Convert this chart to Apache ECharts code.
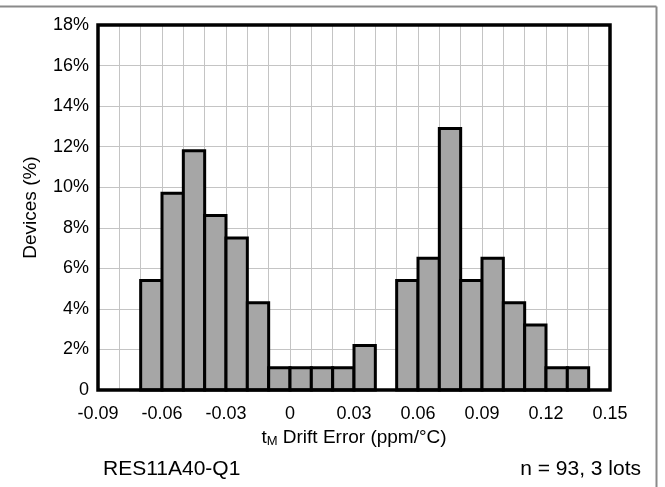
<!DOCTYPE html>
<html>
<head>
<meta charset="utf-8">
<script src="https://cdn.jsdelivr.net/npm/echarts@6/dist/echarts.min.js"></script>
<style>
  html, body { margin: 0; padding: 0; background: #fff; }
  #chart { width: 665px; height: 487px; }
</style>
</head>
<body>
<div id="chart"></div>
<script>
// bin left edges (ppm/°C), bin width 0.01
const binStart = [-0.07, -0.06, -0.05, -0.04, -0.03, -0.02, -0.01, 0, 0.01, 0.02, 0.03,
  0.04, 0.05, 0.06, 0.07, 0.08, 0.09, 0.10, 0.11, 0.12, 0.13];
const devicesPct = [5.4, 9.7, 11.8, 8.6, 7.5, 4.3, 1.1, 1.1, 1.1, 1.1, 2.2,
  0, 5.4, 6.5, 12.9, 5.4, 6.5, 4.3, 3.2, 1.1, 1.1];
const binWidth = 0.01;

const font = 'Liberation Sans, Arial, sans-serif';
const gridColor = '#c4c4c4';

const chart = echarts.init(document.getElementById('chart'));

const bars = [];
for (let i = 0; i < binStart.length; i++) {
  if (devicesPct[i] > 0) bars.push([binStart[i], binStart[i] + binWidth, devicesPct[i]]);
}

const option = {
  animation: false,
  grid: { left: 98, top: 25, width: 512, height: 365 },
  xAxis: {
    type: 'value',
    min: -0.09, max: 0.15, interval: 0.03,
    axisLine: { show: false },
    axisTick: { show: false },
    splitLine: { show: true, lineStyle: { color: gridColor, width: 1 } },
    minorTick: { show: false, splitNumber: 3 },
    minorSplitLine: { show: true, lineStyle: { color: gridColor, width: 1 } },
    axisLabel: {
      color: '#000', fontFamily: font, fontSize: 18, margin: 15,
      formatter: v => {
        const r = Math.round(v * 100) / 100;
        return r === 0 ? '0' : r.toFixed(2);
      }
    },
    name: '{n|t}{s|M}{n| Drift Error (ppm/°C)}',
    nameLocation: 'middle', nameGap: 37,
    nameTextStyle: {
      rich: {
        n: { fontFamily: font, fontSize: 19, color: '#000' },
        s: { fontFamily: font, fontSize: 13, color: '#000', verticalAlign: 'bottom', padding: [8, 0, 0, 0] }
      }
    }
  },
  yAxis: {
    type: 'value',
    min: 0, max: 18, interval: 2,
    axisLine: { show: false },
    axisTick: { show: false },
    splitLine: { show: true, lineStyle: { color: gridColor, width: 1 } },
    axisLabel: {
      color: '#000', fontFamily: font, fontSize: 18, margin: 9,
      formatter: v => v === 0 ? '0' : v + '%'
    },
    name: 'Devices (%)',
    nameLocation: 'middle', nameGap: 58,
    nameTextStyle: { color: '#000', fontFamily: font, fontSize: 19 }
  },
  series: [{
    type: 'custom',
    data: bars,
    renderItem: (params, api) => {
      const p0 = api.coord([api.value(0), 0]);
      const p1 = api.coord([api.value(1), api.value(2)]);
      return {
        type: 'rect',
        shape: { x: p0[0], y: p1[1], width: p1[0] - p0[0], height: p0[1] - p1[1] },
        style: { fill: '#a6a6a6', stroke: '#000', lineWidth: 3 }
      };
    },
    z: 3
  }],
  graphic: [
    { type: 'line', shape: { x1: 0, y1: 6.5, x2: 656.5, y2: 6.5 }, style: { stroke: '#8a8a8a', lineWidth: 2 } },
    { type: 'line', shape: { x1: 656.5, y1: 6.5, x2: 656.5, y2: 487 }, style: { stroke: '#8a8a8a', lineWidth: 2 } },
    // plot frame
    { type: 'rect', z: 100, shape: { x: 98, y: 25, width: 512, height: 365 },
      style: { fill: 'none', stroke: '#000', lineWidth: 3.5 } },
    { type: 'text', left: 103, top: 459, style: { text: 'RES11A40-Q1', fontFamily: font, fontSize: 21, fill: '#000' } },
    { type: 'text', right: 24, top: 459, style: { text: 'n = 93, 3 lots', fontFamily: font, fontSize: 21, fill: '#000' } }
  ]
};

chart.setOption(option);
</script>
</body>
</html>
